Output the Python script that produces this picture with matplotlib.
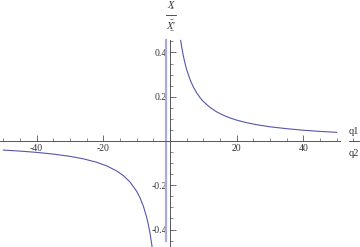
import matplotlib
matplotlib.use("Agg")
import matplotlib.pyplot as plt
from matplotlib.ticker import MultipleLocator, FixedLocator

# ------------------------------------------------------------
# Values
# ------------------------------------------------------------
x_right = [3.2, 3.5, 4, 4.5, 5, 6, 7, 8, 9, 10, 12, 14, 16, 18, 20,
           23, 26, 30, 35, 40, 45, 50]
y_right = [0.4545, 0.4255, 0.3846, 0.3509, 0.3226, 0.2778, 0.2439, 0.2174,
           0.1961, 0.1786, 0.1515, 0.1316, 0.1163, 0.1042, 0.0943, 0.0826,
           0.0735, 0.0641, 0.0556, 0.0485, 0.0433, 0.0391]

x_left = [-50, -45, -40, -35, -30, -26, -22, -19, -16, -14, -12, -10, -9,
          -8, -7, -6.5, -6, -5.5, -5.3]
y_left = [-0.0410, -0.0457, -0.0515, -0.0592, -0.0694, -0.0806, -0.0962,
          -0.1124, -0.1355, -0.1563, -0.1852, -0.2273, -0.2564, -0.2941,
          -0.3448, -0.3774, -0.4167, -0.4651, -0.4878]

# jump at the pole (drawn by the plotting routine)
pole_x = -1.2
pole_y = [-0.45, 0.457]

x_ticks = [-40, -20, 20, 40]
y_ticks = [-0.4, -0.2, 0.2, 0.4]

serif = "Liberation Serif"
line_col = "#5656aa"
axis_col = "#555555"
text_col = "#333333"

fig = plt.figure(figsize=(3.6, 2.47), dpi=100)
ax = fig.add_axes([0, 0, 1, 1])
ax.set_xlim(-51, 57)
ax.set_ylim(-0.479, 0.637)

ax.plot(x_right, y_right, color=line_col, lw=0.8)
ax.plot(x_left, y_left, color=line_col, lw=0.8)
ax.plot([pole_x, pole_x], pole_y, color="#aaaadd", lw=1.6)

# Mathematica-style axes through the origin
for side in ("top", "right"):
    ax.spines[side].set_visible(False)
ax.spines["left"].set_position(("data", 0))
ax.spines["bottom"].set_position(("data", 0))
ax.spines["bottom"].set_bounds(-51, 51)
ax.spines["left"].set_bounds(-0.479, 0.457)
for side in ("left", "bottom"):
    ax.spines[side].set_color(axis_col)
    ax.spines[side].set_linewidth(0.7)

ax.xaxis.set_major_locator(FixedLocator(x_ticks))
ax.xaxis.set_minor_locator(MultipleLocator(5))
ax.yaxis.set_major_locator(FixedLocator(y_ticks))
ax.yaxis.set_minor_locator(MultipleLocator(0.05))
ax.set_xticklabels([f"{v:d}" for v in x_ticks])
ax.set_yticklabels([f"{v:.1f}" for v in y_ticks])
ax.tick_params(which="major", direction="in", length=4, width=0.6,
               color=axis_col, labelsize=7, pad=2, labelcolor=text_col)
ax.tick_params(which="minor", direction="in", length=2.5, width=0.5,
               color=axis_col)
for lab in ax.get_xticklabels() + ax.get_yticklabels():
    lab.set_fontfamily(serif)

# axis labels drawn as stacked fractions
ax.text(55.2, 0.042, "q1", family=serif, fontsize=7.5, ha="center",
        va="center", color=text_col)
ax.plot([53.6, 56.8], [0, 0], color=text_col, lw=0.6, clip_on=False)
ax.text(55.2, -0.056, "q2", family=serif, fontsize=7.5, ha="center",
        va="center", color=text_col)

ax.text(0.3, 0.612, "X", family=serif, style="italic", fontsize=7.5,
        ha="center", va="center", color=text_col)
ax.plot([-1.2, 1.8], [0.570, 0.570], color=text_col, lw=0.6)
ax.text(0.3, 0.518, "X'", family=serif, style="italic", fontsize=7.5,
        ha="center", va="center", color=text_col)

fig.savefig("out.png", dpi=100)
